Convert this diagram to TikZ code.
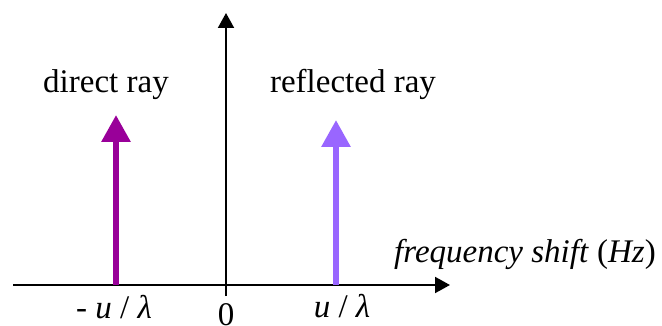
\documentclass[tikz,border=0pt]{standalone}
\usepackage{fontspec}
\setmainfont{Liberation Serif}
\usetikzlibrary{arrows.meta}
\definecolor{directc}{HTML}{990099}
\definecolor{reflc}{HTML}{9966FF}
\begin{document}
\begin{tikzpicture}[x=1pt,y=-1pt,
  axis/.style={line width=2pt,black,-{Triangle[width=16pt,length=15pt]}},
  ray/.style={line width=6pt,-{Triangle[width=28pt,length=27pt]}},
  lbl/.style={inner sep=0pt,anchor=base,font=\fontsize{33}{40}\selectfont}]
\useasboundingbox (0,0) rectangle (662,326);
% coordinates
\coordinate (xs) at (13,285);
\coordinate (xe) at (450,285);
\coordinate (ys) at (226,296);
\coordinate (ye) at (226,13);
\coordinate (ds) at (116,285);
\coordinate (de) at (116,115);
\coordinate (rs) at (336,285);
\coordinate (re) at (336,120);
% axes
\draw[axis] (xs) -- (xe);
\draw[axis] (ys) -- (ye);
% rays
\draw[ray,directc] (ds) -- (de);
\draw[ray,reflc] (rs) -- (re);
% labels
\node[lbl] (tdirect) at (106,93) {direct ray};
\node[lbl] (trefl) at (353,93) {reflected ray};
\node[lbl] (tfreq) at (525,262) {\textit{frequency shift} (\textit{Hz})};
\node[lbl] (tneg) at (114,318) {- \textit{u} / \textit{λ}};
\node[lbl] (tzero) at (226,325) {0};
\node[lbl] (tpos) at (342,317) {\textit{u} / \textit{λ}};
\end{tikzpicture}
\end{document}
